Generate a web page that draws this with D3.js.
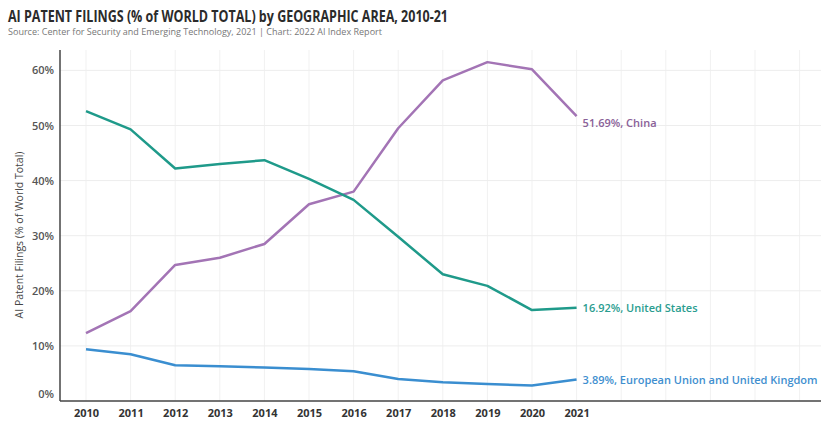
<!DOCTYPE html>
<html lang="en">
<head>
  <meta charset="UTF-8">
  <script src="https://d3js.org/d3.v7.min.js"></script>
  <title>AI Patent Filings</title>
  <style>
    body { margin: 0; background: #fff; }
    text { font-family: "Open Sans", sans-serif; }
  </style>
</head>
<body>
<div id="chart"></div>
<script>

// data
var years = [2010, 2011, 2012, 2013, 2014, 2015, 2016, 2017, 2018, 2019, 2020, 2021];
var china = [12.3, 16.3, 24.7, 26.0, 28.5, 35.7, 38.0, 49.5, 58.2, 61.5, 60.2, 51.69];
var unitedStates = [52.6, 49.3, 42.2, 43.0, 43.7, 40.3, 36.5, 29.8, 23.0, 20.9, 16.5, 16.92];
var euUk = [9.4, 8.5, 6.5, 6.3, 6.1, 5.8, 5.4, 4.0, 3.4, 3.1, 2.8, 3.89];
var yTicks = [0, 10, 20, 30, 40, 50, 60];

var series = [
  { name: "China", values: china, color: "#a374b5", labelColor: "#8a6198", dy: 11 },
  { name: "United States", values: unitedStates, color: "#1f9a8a", labelColor: "#2a9d8f", dy: 4 },
  { name: "European Union and United Kingdom", values: euUk, color: "#3a8ed0", labelColor: "#3f8fcf", dy: 4 }
];

var W = 821, H = 421;
var margin = {top: 50, right: 0, bottom: 20, left: 60};

var svg = d3.select("#chart").append("svg")
  .attr("width", W)
  .attr("height", H);

var x = d3.scaleLinear()
  .domain([2009.417, 2026.48])
  .range([margin.left, W - margin.right]);

var y = d3.scaleLinear()
  .domain([0, 60])
  .range([401, 70.4]);

// title
svg.append("text")
  .attr("x", 8).attr("y", 22)
  .attr("textLength", 440).attr("lengthAdjust", "spacingAndGlyphs")
  .style("font-size", "15.5px").style("font-weight", "700")
  .attr("fill", "#2b2b2b")
  .text("AI PATENT FILINGS (% of WORLD TOTAL) by GEOGRAPHIC AREA, 2010-21");

svg.append("text")
  .attr("x", 8).attr("y", 35)
  .attr("textLength", 374).attr("lengthAdjust", "spacingAndGlyphs")
  .style("font-size", "8.5px")
  .attr("fill", "#777")
  .text("Source: Center for Security and Emerging Technology, 2021 | Chart: 2022 AI Index Report");

// gridlines
var gridYears = d3.range(2010, 2027);
svg.append("g").selectAll("line")
  .data(gridYears)
  .join("line")
    .attr("x1", function(d) { return x(d); })
    .attr("x2", function(d) { return x(d); })
    .attr("y1", margin.top)
    .attr("y2", y(0))
    .attr("stroke", "#f1f1f1");

svg.append("g").selectAll("line")
  .data(yTicks.slice(1))
  .join("line")
    .attr("x1", margin.left)
    .attr("x2", W)
    .attr("y1", function(d) { return y(d); })
    .attr("y2", function(d) { return y(d); })
    .attr("stroke", "#ededed");

// axes
var yAxis = svg.append("g")
  .attr("transform", "translate(" + margin.left + ",0)")
  .call(d3.axisLeft(y).tickValues(yTicks).tickSize(0).tickPadding(6)
    .tickFormat(function(d) { return d + "%"; }));
yAxis.select(".domain").remove();
yAxis.selectAll("text")
  .style("font-size", "11px").style("font-weight", "600")
  .attr("fill", "#555")
  .attr("dy", function(d) { return d === 0 ? "-0.3em" : "0.32em"; });

svg.append("line")
  .attr("x1", margin.left).attr("x2", margin.left)
  .attr("y1", margin.top).attr("y2", y(0))
  .attr("stroke", "#444").attr("stroke-width", 1.5);

var xAxis = svg.append("g")
  .attr("transform", "translate(0," + y(0) + ")")
  .call(d3.axisBottom(x).tickValues(years).tickSize(0).tickPadding(8)
    .tickFormat(d3.format("d")));
xAxis.select(".domain").remove();
xAxis.selectAll("text")
  .style("font-size", "11px").style("font-weight", "700")
  .attr("fill", "#333");

svg.append("line")
  .attr("x1", margin.left).attr("x2", W)
  .attr("y1", y(0)).attr("y2", y(0))
  .attr("stroke", "#444").attr("stroke-width", 1.5);

// y axis title
svg.append("text")
  .attr("transform", "translate(23," + 235 + ") rotate(-90)")
  .attr("text-anchor", "middle")
  .style("font-size", "10.5px")
  .attr("fill", "#444")
  .text("AI Patent Filings (% of World Total)");

// lines
var line = d3.line()
  .x(function(d, i) { return x(years[i]); })
  .y(function(d) { return y(d); });

svg.append("g").selectAll("path")
  .data(series)
  .join("path")
    .attr("d", function(d) { return line(d.values); })
    .attr("fill", "none")
    .attr("stroke", function(d) { return d.color; })
    .attr("stroke-width", 2.5)
    .attr("stroke-linejoin", "round");

// end labels
svg.append("g").selectAll("text")
  .data(series)
  .join("text")
    .attr("x", x(2021) + 6)
    .attr("y", function(d) { return y(d.values[d.values.length - 1]) + d.dy; })
    .style("font-size", "11px")
    .style("font-weight", "600")
    .attr("fill", function(d) { return d.labelColor; })
    .text(function(d) { return d.values[d.values.length - 1].toFixed(2) + "%, " + d.name; });

</script>
</body>
</html>
